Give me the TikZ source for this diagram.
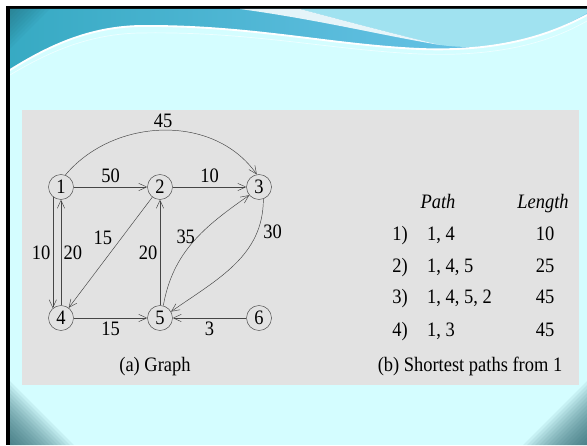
\documentclass[tikz,border=0pt]{standalone}
\usepackage{fontspec}
\setmainfont{Liberation Serif}[FakeStretch=0.9]
\usetikzlibrary{arrows.meta,positioning}
\definecolor{slidecyan}{RGB}{212,253,255}
\definecolor{wavecyan}{RGB}{110,224,238}
\definecolor{wavedark}{RGB}{55,170,195}
\definecolor{waveblue}{RGB}{115,200,238}
\definecolor{wavelight}{RGB}{160,226,240}
\definecolor{cornerteal}{RGB}{30,90,100}
\definecolor{panelgray}{RGB}{226,226,226}
\definecolor{edgegray}{RGB}{70,70,70}

\begin{document}
\begin{tikzpicture}[
  x=0.03cm, y=0.03cm,
  node distance=3.93cm and 2.97cm, on grid,
  every node/.style={font=\fontsize{17.5}{20}\selectfont},
  vertex/.style={draw=edgegray, circle, minimum size=0.75cm, inner sep=0pt},
  edge/.style={draw=edgegray, -{Straight Barb[length=2.4mm,width=2.2mm]}},
  side/.style={inner sep=2pt}
]
% slide background
\useasboundingbox (0,0) rectangle (587,445);
\fill[white] (0,0) rectangle (587,445);
\fill[black] (6,0) rectangle (10,439);
\fill[black] (6,436) rectangle (587,439);
\fill[slidecyan] (10,0) rectangle (587,436);
\begin{scope}
  \clip (10,0) rectangle (587,436);
  \shade[left color=wavedark, middle color=wavecyan, right color=waveblue]
    (10,375) .. controls (50,400) and (90,418) .. (140,419)
    .. controls (250,420) and (330,400) .. (420,396)
    .. controls (500,393) and (550,410) .. (587,430)
    -- (587,436) -- (10,436) -- cycle;
  \fill[wavelight] (300,436) .. controls (330,428) and (390,412) .. (440,400)
    .. controls (500,392) and (550,410) .. (587,432) -- (587,436) -- cycle;
  \fill[white, opacity=0.85] (240,436) .. controls (320,425) and (380,410) .. (440,400)
    .. controls (390,412) and (330,428) .. (300,436) -- cycle;
  \draw[white, line width=1.6pt]
    (10,375) .. controls (50,400) and (90,418) .. (140,419)
    .. controls (250,420) and (330,400) .. (420,396)
    .. controls (500,393) and (550,410) .. (587,430);
  \draw[white, opacity=0.6, line width=0.6pt]
    (10,370) .. controls (50,394) and (90,411) .. (140,412)
    .. controls (250,414) and (330,395) .. (420,391)
    .. controls (500,388) and (550,403) .. (587,424);
  % darker corners
  \foreach \r in {4,8,...,64} {
    \fill[cornerteal, opacity=0.075] (10,0) -- (10,\r) -- (10+\r,0) -- cycle;
    \fill[cornerteal, opacity=0.075] (587,0) -- (587,\r) -- (587-\r,0) -- cycle;
  }
  \foreach \r in {4,8,...,40}
    \fill[cornerteal, opacity=0.05] (10,436) -- (10,436-\r) -- (10+\r,436) -- cycle;
\end{scope}
\fill[panelgray] (22,60) rectangle (579,335);

% (a) graph
\node[vertex] (n1) at (61,258) {1};
\node[vertex, right=of n1] (n2) {2};
\node[vertex, right=of n2] (n3) {3};
\node[vertex, below=of n1] (n4) {4};
\node[vertex, right=of n4] (n5) {5};
\node[vertex, right=of n5] (n6) {6};

\draw[edge] (n1.70) to[out=50, in=125] node[above, side] (l13) {45} (n3.100);
\draw[edge] (n1) -- node[above] (l12) {50} (n2);
\draw[edge] (n2) -- node[above] (l23) {10} (n3);
\draw[edge] (n1.230) -- node[left, side] (l14) {10} (n4.130);
\draw[edge] (n4) -- node[right, side] (l41) {20} (n1);
\draw[edge] (n2) -- node[pos=0.45, above left, side] (l24) {15} (n4);
\draw[edge] (n5) -- node[left, side] (l52) {20} (n2);
\draw[edge] (n5.75) to[out=80, in=215] node[pos=0.55, left, side] (l53) {35} (n3.220);
\draw[edge] (n3.290) to[out=270, in=35] node[pos=0.22, right, inner sep=5pt] (l35) {30} (n5.30);
\draw[edge] (n4) -- node[below] (l45) {15} (n5);
\draw[edge] (n6) -- node[below] (l65) {3} (n5);
\node[anchor=base] (capa) at (155,74) {(a) Graph};

% (b) shortest paths
\node[anchor=base] (hpath) at (438,236) {\textit{Path}};
\node[anchor=base] (hlen) at (543,236) {\textit{Length}};
\node[anchor=base east] (k1) at (412,204) {1)};
\node[anchor=base west] (p1) at (423,204) {1, 4};
\node[anchor=base] (d1) at (545,204) {10};
\node[anchor=base east] (k2) at (412,172) {2)};
\node[anchor=base west] (p2) at (423,172) {1, 4, 5};
\node[anchor=base] (d2) at (545,172) {25};
\node[anchor=base east] (k3) at (412,141) {3)};
\node[anchor=base west] (p3) at (423,141) {1, 4, 5, 2};
\node[anchor=base] (d3) at (545,141) {45};
\node[anchor=base east] (k4) at (412,108) {4)};
\node[anchor=base west] (p4) at (423,108) {1, 3};
\node[anchor=base] (d4) at (545,108) {45};
\node[anchor=base] (capb) at (470,74) {(b) Shortest paths from 1};
\end{tikzpicture}
\end{document}
